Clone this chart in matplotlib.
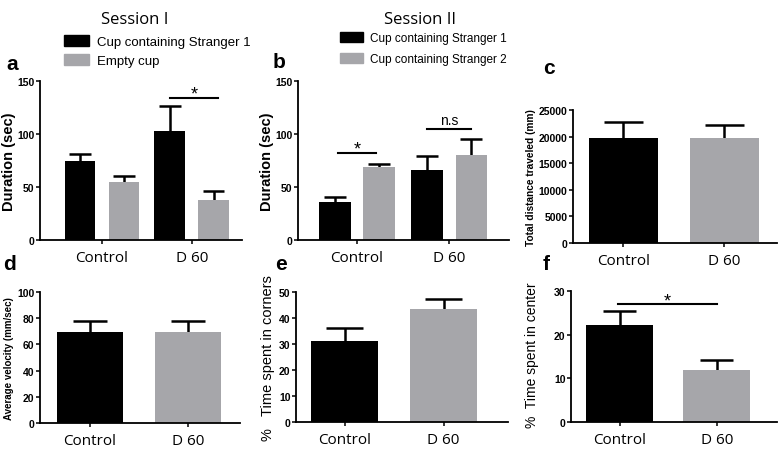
import matplotlib
matplotlib.use("Agg")
import matplotlib.pyplot as plt
from matplotlib.patches import Patch

# ---- data ----
groups = ["Control", "D 60"]

a_series = ["Cup containing Stranger 1", "Empty cup"]
a_mean_s1 = [75, 103]
a_err_s1 = [6, 23]
a_mean_empty = [55, 38]
a_err_empty = [5, 8]

b_series = ["Cup containing Stranger 1", "Cup containing Stranger 2"]
b_mean_s1 = [36, 66]
b_err_s1 = [5, 13]
b_mean_s2 = [69, 80]
b_err_s2 = [2.5, 15]

c_mean = [19800, 19700]
c_err = [2900, 2400]

d_mean = [69.5, 69.5]
d_err = [8.5, 8]

e_mean = [31, 43.5]
e_err = [5, 4]

f_mean = [22.2, 12]
f_err = [3.2, 2.3]

BLACK = "#000000"
GRAY = "#a6a6aa"
TICKFONT = "Liberation Sans"
XFONT = "Open Sans"

W, H = 778, 452
fig = plt.figure(figsize=(W / 100, H / 100), dpi=100)


def add_ax(left, right, bottom, top):
    return fig.add_axes([left / W, 1 - bottom / H, (right - left) / W, (bottom - top) / H])


def style(ax, ylim, yticks, xlim):
    ax.set_ylim(*ylim)
    ax.set_xlim(*xlim)
    ax.set_yticks(yticks)
    ax.set_xticks([0, 1])
    ax.set_xticklabels(groups, fontfamily=XFONT, fontsize=11)
    for lab in ax.get_yticklabels():
        lab.set_fontfamily(TICKFONT)
        lab.set_fontweight("bold")
        lab.set_fontsize(7.5)
    for s in ["top", "right"]:
        ax.spines[s].set_visible(False)
    for s in ["left", "bottom"]:
        ax.spines[s].set_linewidth(1.3)
    ax.tick_params(axis="y", direction="out", length=3, width=1.1, pad=1)
    ax.tick_params(axis="x", direction="out", length=3, width=1.1, pad=4)


def up_bars(ax, x, means, errs, color, width, cap):
    ax.bar(x, means, width=width, color=color, edgecolor="none", zorder=2)
    tops = [m + e for m, e in zip(means, errs)]
    ax.vlines(x, means, tops, color=BLACK, lw=1.8, zorder=1)
    ax.hlines(tops, [xi - cap for xi in x], [xi + cap for xi in x], color=BLACK, lw=1.8, zorder=1)


def sig(ax, x0, x1, y, text, dy, fs=13):
    ax.plot([x0, x1], [y, y], color=BLACK, lw=1.5, clip_on=False)
    ax.text((x0 + x1) / 2, y + dy, text, ha="center", va="bottom", fontsize=fs,
            fontfamily=TICKFONT, clip_on=False)


# ---- panel a ----
ax = add_ax(40, 242, 241, 82)
off, bw = 0.245, 0.34
up_bars(ax, [g - off for g in range(2)], a_mean_s1, a_err_s1, BLACK, bw, 0.12)
up_bars(ax, [g + off for g in range(2)], a_mean_empty, a_err_empty, GRAY, bw, 0.12)
style(ax, (0, 150), [0, 50, 100, 150], (-0.69, 1.56))
ax.set_ylabel("Duration (sec)", fontfamily=TICKFONT, fontweight="bold", fontsize=10.5, labelpad=1)
sig(ax, 0.76, 1.29, 134, "*", -4)
ax.legend(handles=[Patch(color=BLACK), Patch(color=GRAY)], labels=a_series,
          loc="lower left", bbox_to_anchor=(0.12, 1.09), frameon=False,
          prop={"family": TICKFONT, "size": 9.5}, handlelength=1.9, handleheight=0.9,
          handletextpad=0.6, labelspacing=0.45, borderaxespad=0, borderpad=0)

# ---- panel b ----
ax = add_ax(298, 509, 241, 82)
off, bw = 0.24, 0.34
up_bars(ax, [g - off for g in range(2)], b_mean_s1, b_err_s1, BLACK, bw, 0.12)
up_bars(ax, [g + off for g in range(2)], b_mean_s2, b_err_s2, GRAY, bw, 0.12)
style(ax, (0, 150), [0, 50, 100, 150], (-0.64, 1.65))
ax.set_ylabel("Duration (sec)", fontfamily=TICKFONT, fontweight="bold", fontsize=10.5, labelpad=1)
sig(ax, -0.21, 0.21, 82, "*", -4)
sig(ax, 0.76, 1.24, 105, "n.s", 2, fs=10)
ax.legend(handles=[Patch(color=BLACK), Patch(color=GRAY)], labels=b_series,
          loc="lower left", bbox_to_anchor=(0.20, 1.10), frameon=False,
          prop={"family": TICKFONT, "size": 8.5}, handlelength=1.9, handleheight=0.9,
          handletextpad=0.6, labelspacing=0.75, borderaxespad=0, borderpad=0)

# ---- panel c ----
ax = add_ax(573, 777, 244, 111)
up_bars(ax, [0], [c_mean[0]], [c_err[0]], BLACK, 0.69, 0.19)
up_bars(ax, [1], [c_mean[1]], [c_err[1]], GRAY, 0.69, 0.19)
style(ax, (0, 25000), [0, 5000, 10000, 15000, 20000, 25000], (-0.5, 1.52))
ax.set_ylabel("Total distance traveled (mm)", fontfamily=TICKFONT, fontweight="bold", fontsize=7.3, labelpad=2)

# ---- panel d ----
ax = add_ax(40, 240, 424, 293)
up_bars(ax, [0], [d_mean[0]], [d_err[0]], BLACK, 0.68, 0.17)
up_bars(ax, [1], [d_mean[1]], [d_err[1]], GRAY, 0.68, 0.17)
style(ax, (0, 100), [0, 20, 40, 60, 80, 100], (-0.51, 1.53))
ax.set_ylabel("Average velocity (mm/sec)", fontfamily=TICKFONT, fontweight="bold", fontsize=7, labelpad=2)

# ---- panel e ----
ax = add_ax(296, 508, 423, 293)
up_bars(ax, [0], [e_mean[0]], [e_err[0]], BLACK, 0.68, 0.185)
up_bars(ax, [1], [e_mean[1]], [e_err[1]], GRAY, 0.68, 0.185)
style(ax, (0, 50), [0, 10, 20, 30, 40, 50], (-0.49, 1.65))
ax.set_ylabel("%   Time spent in corners", fontfamily=TICKFONT, fontsize=10.5, labelpad=3)

# ---- panel f ----
ax = add_ax(571, 777, 423, 292)
up_bars(ax, [0], [f_mean[0]], [f_err[0]], BLACK, 0.69, 0.17)
up_bars(ax, [1], [f_mean[1]], [f_err[1]], GRAY, 0.69, 0.17)
style(ax, (0, 30), [0, 10, 20, 30], (-0.5, 1.62))
ax.set_ylabel("%  Time spent in center", fontfamily=TICKFONT, fontsize=10, labelpad=3)
ax.yaxis.set_label_coords(-0.155, 0.52)
sig(ax, -0.02, 1.0, 27, "*", -1.3)

# ---- titles & panel letters ----
fig.text(135 / W, 1 - 20 / H, "Session I", ha="center", va="center", fontfamily=XFONT, fontsize=12)
fig.text(420 / W, 1 - 20 / H, "Session II", ha="center", va="center", fontfamily=XFONT, fontsize=12)
for letter, x, y in [("a", 12, 65), ("b", 279, 62), ("c", 549, 68),
                     ("d", 9, 265), ("e", 281, 264), ("f", 546, 264)]:
    fig.text(x / W, 1 - y / H, letter, ha="center", va="center", fontfamily=TICKFONT,
             fontweight="bold", fontsize=15)

fig.savefig("out.png", dpi=100)
